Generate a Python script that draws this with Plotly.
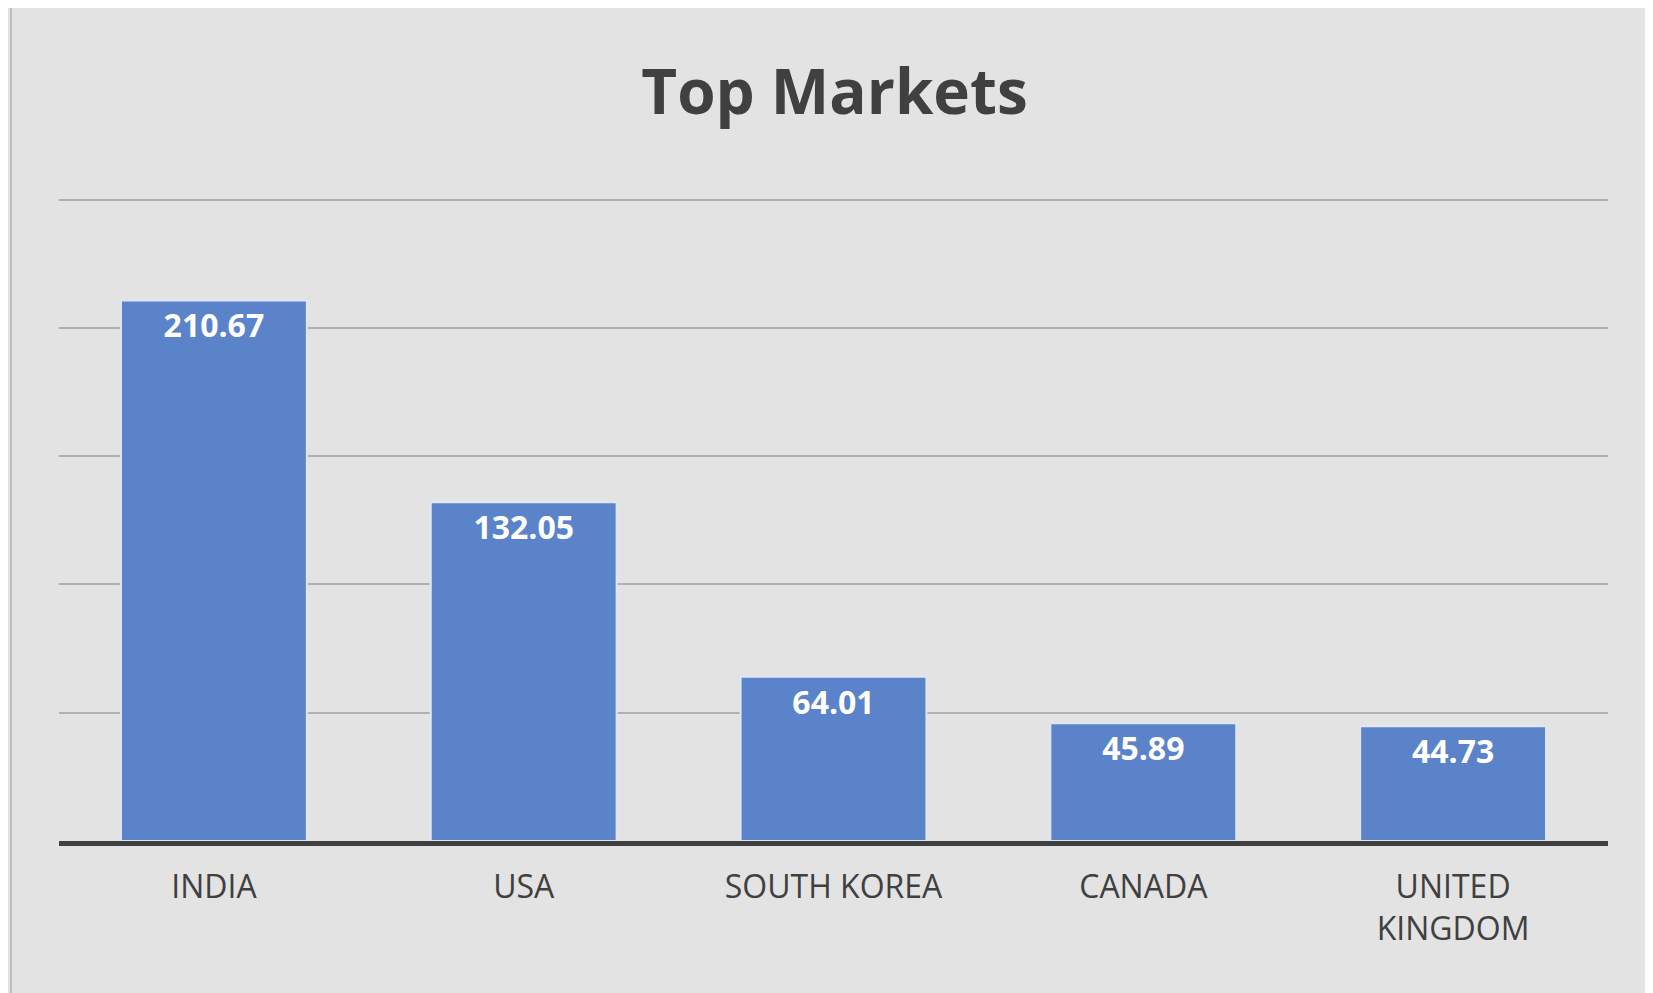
import plotly.graph_objects as go

countries = ["INDIA", "USA", "SOUTH KOREA", "CANADA", "UNITED<br>KINGDOM"]
values = [210.67, 132.05, 64.01, 45.89, 44.73]

fig = go.Figure(go.Bar(
    x=countries, y=values,
    text=[f"{v:.2f}" for v in values],
    textposition="inside", insidetextanchor="end",
    textfont=dict(color="white", size=32, family="Open Sans"),
    texttemplate="<b>%{text}</b>",
    marker=dict(color="#5b83ca", line=dict(color="#dfe6f3", width=2)),
    width=0.6,
))

fig.update_layout(
    width=1653, height=993,
    title=dict(text="<b>Top Markets</b>", x=0.5, y=0.915, xanchor="center", yanchor="middle",
               font=dict(size=62, color="#404040", family="Open Sans")),
    paper_bgcolor="#e3e3e3", plot_bgcolor="rgba(0,0,0,0)",
    margin=dict(l=51, r=53, t=190, b=160),
    showlegend=False,
    bargap=0.4,
)
fig.update_yaxes(range=[0, 250.6], dtick=50, showticklabels=False, gridcolor="#b0b0b0",
                 gridwidth=2, zeroline=False)
fig.update_xaxes(showline=True, linecolor="#404040", linewidth=5, ticklabelstandoff=14,
                 tickfont=dict(size=32, color="#404040", family="Open Sans"))
fig.add_shape(type="rect", xref="paper", yref="paper", x0=-0.031, x1=1.033, y0=-0.25, y1=1.30,
              line=dict(color="#bfbfbf", width=2))

fig.write_html("out.html")
